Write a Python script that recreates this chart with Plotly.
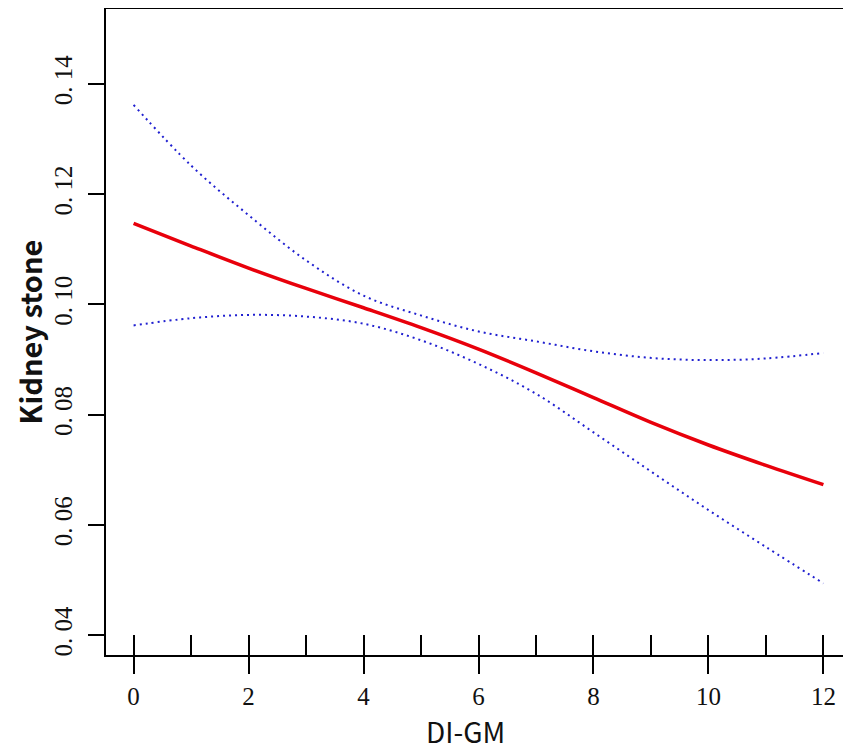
import plotly.graph_objects as go

# values (DI-GM 0..12)
di_gm = [0, 1, 2, 3, 4, 5, 6, 7, 8, 9, 10, 11, 12]
fit = [0.1147, 0.1106, 0.1066, 0.1029, 0.0994, 0.0958, 0.0919, 0.0876, 0.0831,
       0.0786, 0.0745, 0.0708, 0.0673]
upper = [0.1362, 0.1252, 0.1162, 0.1080, 0.1016, 0.0980, 0.0951, 0.0933, 0.0915,
         0.0903, 0.0899, 0.0902, 0.0912]
lower = [0.0962, 0.0975, 0.0981, 0.0978, 0.0965, 0.0935, 0.0892, 0.0838, 0.0768,
         0.0697, 0.0627, 0.0560, 0.0494]

x_ticks = [0, 2, 4, 6, 8, 10, 12]
y_ticks = [0.04, 0.06, 0.08, 0.10, 0.12, 0.14]
y_ticktext = ["0. 04", "0. 06", "0. 08", "0. 10", "0. 12", "0. 14"]

fig = go.Figure()

for band in (upper, lower):
    fig.add_trace(go.Scatter(
        x=di_gm, y=band, mode="lines",
        line=dict(color="#2020d0", width=2, dash="2px,4px", shape="spline"),
        showlegend=False, hoverinfo="skip"
    ))

fig.add_trace(go.Scatter(
    x=di_gm, y=fit, mode="lines",
    line=dict(color="#e8000b", width=3.5, shape="spline"),
    showlegend=False
))

# invisible trace so the overlay axis (inner minor ticks) gets drawn
fig.add_trace(go.Scatter(x=[di_gm[0]], y=[fit[0]], xaxis="x2", mode="markers",
                         marker=dict(opacity=0), showlegend=False, hoverinfo="skip"))

tick_font = dict(family="Liberation Serif", size=25, color="#111")
x_range = [-0.48, 12.48]

fig.update_layout(
    width=851, height=752,
    margin=dict(l=98, r=8, t=1, b=105),
    plot_bgcolor="white", paper_bgcolor="white",
    xaxis=dict(
        range=x_range, tickvals=x_ticks, ticks="outside", ticklen=17,
        tickwidth=2, tickcolor="black", tickfont=tick_font,
        showline=True, linecolor="black", linewidth=2, mirror=True,
        showgrid=False, zeroline=False, ticklabelstandoff=1, automargin=False,
    ),
    xaxis2=dict(
        range=x_range, overlaying="x", side="bottom", dtick=1, tick0=0,
        ticks="inside", ticklen=20, tickwidth=1.5, tickcolor="black",
        showticklabels=False, showline=False, showgrid=False, zeroline=False
    ),
    yaxis=dict(
        range=[0.0364, 0.1536], tickvals=y_ticks, ticktext=y_ticktext,
        ticks="outside", ticklen=16, tickwidth=2, tickcolor="black",
        tickangle=-90, tickfont=tick_font,
        showline=True, linecolor="black", linewidth=2, mirror=True,
        showgrid=False, zeroline=False, ticklabelstandoff=6, automargin=False,
        title=dict(text="<b>Kidney stone</b>", standoff=6,
                   font=dict(family="Noto Sans CJK SC", size=29, color="#111"))
    ),
    annotations=[dict(
        text="DI-GM", xref="paper", yref="paper", x=0.482, y=0,
        xanchor="center", yanchor="middle", yshift=-76, showarrow=False,
        font=dict(family="Noto Sans CJK SC", size=28, color="#111")
    )]
)

fig.write_html("out.html")
